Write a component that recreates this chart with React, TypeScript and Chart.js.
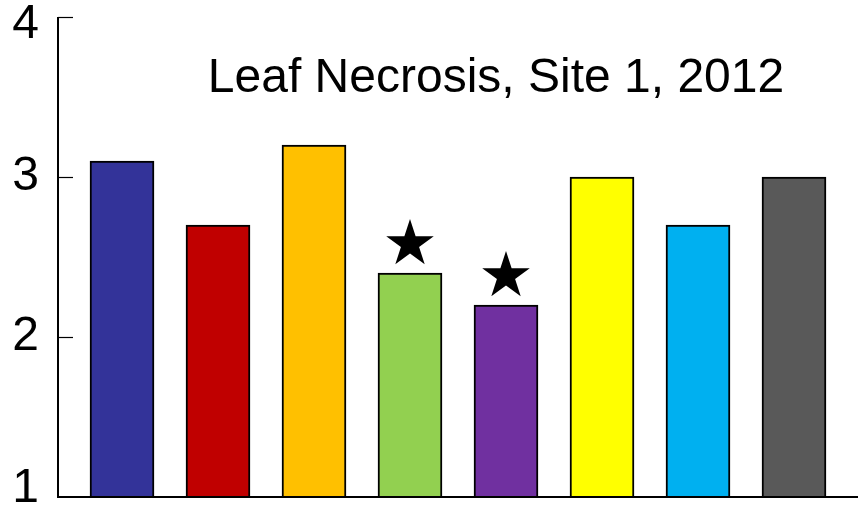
import React, { useEffect, useRef } from "react";
import { Chart, registerables } from "chart.js";

Chart.register(...registerables);

const chartTitle = "Leaf Necrosis, Site 1, 2012";
const categories = ["1", "2", "3", "4", "5", "6", "7", "8"];
const values = [3.1, 2.7, 3.2, 2.4, 2.2, 3.0, 2.7, 3.0];
const significant = [false, false, false, true, true, false, false, false];
const barColors = ["#333399", "#C00000", "#FFC000", "#92D050", "#7030A0", "#FFFF00", "#00B0F0", "#595959"];
const yTicks = [1, 2, 3, 4];
const yMin = 1;
const yMax = 4;

const FONT = "'Liberation Sans', Arial, Helvetica, sans-serif";

function drawStar(ctx: CanvasRenderingContext2D, cx: number, cy: number, R: number) {
  const r = R * 0.382;
  ctx.beginPath();
  for (let k = 0; k < 10; k++) {
    const rad = k % 2 === 0 ? R : r;
    const a = -Math.PI / 2 + (k * Math.PI) / 5;
    const x = cx + rad * Math.cos(a);
    const y = cy + rad * Math.sin(a);
    if (k === 0) ctx.moveTo(x, y);
    else ctx.lineTo(x, y);
  }
  ctx.closePath();
  ctx.fill();
}

const decorPlugin = {
  id: "decor",
  afterDatasetsDraw(chart: any) {
    const ctx = chart.ctx as CanvasRenderingContext2D;
    const area = chart.chartArea;
    const ys = chart.scales.y;
    ctx.save();
    // axes
    ctx.strokeStyle = "#000";
    ctx.lineWidth = 2;
    ctx.beginPath();
    ctx.moveTo(area.left, area.top);
    ctx.lineTo(area.left, area.bottom);
    ctx.lineTo(area.right, area.bottom);
    ctx.stroke();
    // tick marks (inside)
    ctx.lineWidth = 1.2;
    yTicks.forEach((t) => {
      const py = Math.round(ys.getPixelForValue(t)) + 0.5;
      if (t === yMin) return;
      ctx.beginPath();
      ctx.moveTo(area.left, py);
      ctx.lineTo(area.left + 15, py);
      ctx.stroke();
    });
    // tick labels
    ctx.fillStyle = "#000";
    ctx.font = `48px ${FONT}`;
    ctx.textAlign = "right";
    ctx.textBaseline = "middle";
    yTicks.forEach((t) => {
      let py = ys.getPixelForValue(t);
      py = Math.min(Math.max(py, area.top + 8), area.bottom - 8);
      ctx.fillText(String(t), area.left - 19, py);
    });
    // title
    ctx.textAlign = "center";
    ctx.textBaseline = "alphabetic";
    ctx.fillText(chartTitle, 496, 92);
    // significance stars
    const meta = chart.getDatasetMeta(0);
    meta.data.forEach((bar: any, i: number) => {
      if (!significant[i]) return;
      drawStar(ctx, bar.x, bar.y - 29, 25);
    });
    ctx.restore();
  },
};

export default function App() {
  const ref = useRef<HTMLCanvasElement>(null);
  useEffect(() => {
    if (!ref.current) return;
    const chart = new Chart(ref.current, {
      type: "bar",
      data: {
        labels: categories,
        datasets: [
          {
            data: values.map((v, i) => ({ x: i, y: v })),
            backgroundColor: barColors,
            borderColor: "#000",
            borderWidth: 2,
            borderSkipped: false,
            barThickness: 64,
          } as any,
        ],
      },
      options: {
        responsive: false,
        animation: false,
        layout: { padding: { top: 17, right: 6, bottom: 8, left: 0 } },
        plugins: { legend: { display: false }, tooltip: { enabled: false }, title: { display: false } },
        scales: {
          x: {
            type: "linear",
            min: -0.6667,
            max: 7.6667,
            offset: false,
            display: false,
          },
          y: {
            min: yMin,
            max: yMax,
            ticks: { display: false },
            grid: { display: false },
            border: { display: false },
            afterFit: (scale: any) => {
              scale.width = 58;
              scale.paddingTop = 0;
              scale.paddingBottom = 0;
            },
          },
        },
      },
      plugins: [decorPlugin],
    });
    return () => chart.destroy();
  }, []);
  return (
    <div style={{ position: "absolute", left: 0, top: 0, width: 864, height: 505, background: "#fff" }}>
      <canvas ref={ref} width={864} height={505} style={{ display: "block" }} />
    </div>
  );
}
